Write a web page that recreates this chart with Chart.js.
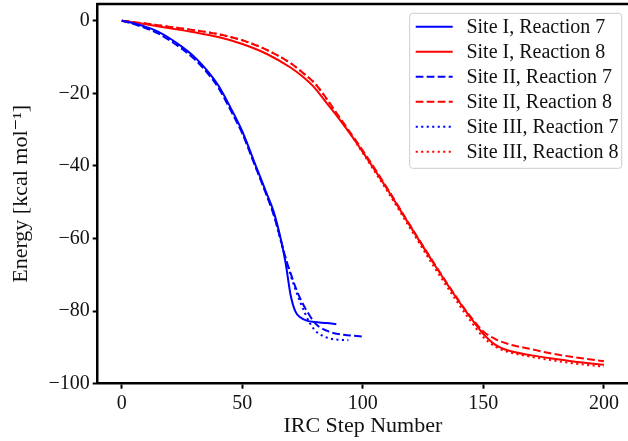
<!DOCTYPE html>
<html>
<head>
<meta charset="utf-8">
<script src="https://cdn.jsdelivr.net/npm/chart.js@4/dist/chart.umd.min.js"></script>
<style>
html, body { margin: 0; padding: 0; background: #fff; }
</style>
</head>
<body>
<canvas id="ircChart" width="628" height="441"></canvas>
<script>
// IRC step numbers and energies (kcal/mol)
var stepsSite1R7 = [0, 5, 10, 15, 20, 25, 30, 35, 40, 45, 50, 55, 60, 63, 66, 68, 70, 72, 74, 77, 80, 85, 89];
var energySite1R7 = [0, -0.7, -1.7, -3.0, -4.9, -7.2, -9.9, -13.4, -17.8, -23.8, -30.5, -39.0, -47.4, -52.6, -60.3, -66.9, -75.5, -80.1, -81.7, -82.7, -83.0, -83.3, -83.6];

var stepsSite2R7 = [0, 5, 10, 15, 20, 25, 30, 35, 40, 45, 50, 55, 60, 63, 66, 68, 70, 72, 74, 76, 78, 80, 82, 85, 88, 92, 96, 100];
var energySite2R7 = [0, -0.9, -2.1, -3.5, -5.5, -7.8, -10.5, -14.0, -18.4, -24.5, -31.1, -39.5, -48.0, -53.5, -60.5, -65.5, -69.5, -73.3, -76.5, -79.1, -81.3, -83.2, -84.4, -85.4, -86.1, -86.5, -86.8, -87.0];

var stepsSite3R7 = [0, 5, 10, 15, 20, 25, 30, 35, 40, 45, 50, 55, 60, 63, 66, 68, 70, 72, 74, 76, 78, 80, 83, 86, 90, 94];
var energySite3R7 = [0, -0.8, -1.9, -3.3, -5.2, -7.5, -10.2, -13.7, -18.1, -24.2, -30.8, -39.3, -47.8, -53.2, -60.8, -65.5, -70.0, -74.0, -77.5, -80.6, -83.3, -85.2, -86.7, -87.5, -87.9, -88.0];

var stepsR8 = [0, 10, 20, 30, 40, 50, 60, 70, 75, 80, 85, 90, 95, 100, 110, 120, 130, 140, 145, 150, 155, 160, 170, 180, 190, 200];
var energySite1R8 = [0, -1.0, -2.1, -3.2, -4.5, -6.4, -9.1, -12.9, -15.4, -18.5, -22.7, -26.9, -31.4, -36.2, -46.3, -57.0, -67.5, -77.5, -82.1, -86.3, -89.3, -90.8, -92.2, -93.2, -94.1, -94.8];
var energySite2R8 = [0, -0.8, -1.7, -2.6, -3.7, -5.4, -8.0, -11.7, -14.3, -17.2, -21.5, -26.3, -31.0, -35.8, -46.0, -56.8, -67.3, -77.3, -81.8, -85.6, -87.7, -89.0, -90.5, -91.9, -92.9, -93.8];
var energySite3R8 = [0, -0.8, -1.7, -2.6, -3.7, -5.4, -8.0, -11.7, -14.3, -17.2, -21.6, -26.6, -31.4, -36.5, -46.8, -57.6, -68.3, -78.3, -83.0, -87.2, -89.8, -91.2, -92.6, -93.7, -94.6, -95.3];

var seriesLabels = ['Site I, Reaction 7', 'Site I, Reaction 8', 'Site II, Reaction 7',
                    'Site II, Reaction 8', 'Site III, Reaction 7', 'Site III, Reaction 8'];
var xTicks = [0, 50, 100, 150, 200];
var yTicks = [-100, -80, -60, -40, -20, 0];

var fontFamily = "'Liberation Serif', 'DejaVu Serif', serif";
var textColor = '#111';
var blue = '#0000ff';
var red = '#ff0000';
var dashed = [7.7, 3.3];
var dotted = [2.1, 3.4];

function toPoints(xs, ys) {
    return xs.map(function(x, i) { return {x: x, y: ys[i]}; });
}

function makeDataset(label, xs, ys, color, dash) {
    return {
        label: label,
        data: toPoints(xs, ys),
        borderColor: color,
        borderWidth: 2,
        borderDash: dash,
        pointRadius: 0,
        fill: false,
        cubicInterpolationMode: 'monotone'
    };
}

function minusSign(value) {
    return String(value).replace('-', '\u2212');
}

// top spine and the framed legend, matplotlib style
var frameAndLegend = {
    id: 'frameAndLegend',
    afterDraw: function(chart) {
        var ctx = chart.ctx;
        var area = chart.chartArea;
        ctx.save();
        ctx.strokeStyle = '#000';
        ctx.lineWidth = 2.5;
        ctx.beginPath();
        ctx.moveTo(area.left - 1.25, area.top);
        ctx.lineTo(area.right, area.top);
        ctx.stroke();

        var w = 212, h = 155, rowH = 25;
        var x0 = area.right - 6.3 - w;
        var y0 = area.top + 9.3;
        ctx.beginPath();
        ctx.roundRect(x0, y0, w, h, 3);
        ctx.fillStyle = 'rgba(255,255,255,0.8)';
        ctx.fill();
        ctx.strokeStyle = '#cccccc';
        ctx.lineWidth = 1;
        ctx.stroke();

        ctx.font = '20px ' + fontFamily;
        ctx.textBaseline = 'middle';
        ctx.textAlign = 'left';
        chart.data.datasets.forEach(function(ds, i) {
            var cy = y0 + 13.4 + i * rowH;
            ctx.beginPath();
            ctx.setLineDash(ds.borderDash || []);
            ctx.strokeStyle = ds.borderColor;
            ctx.lineWidth = 2;
            ctx.moveTo(x0 + 6, cy);
            ctx.lineTo(x0 + 43, cy);
            ctx.stroke();
            ctx.setLineDash([]);
            ctx.fillStyle = textColor;
            ctx.fillText(ds.label, x0 + 56.7, cy + 1);
        });
        ctx.restore();
    }
};

new Chart(document.getElementById('ircChart'), {
    type: 'line',
    data: {
        datasets: [
            makeDataset(seriesLabels[0], stepsSite1R7, energySite1R7, blue, []),
            makeDataset(seriesLabels[1], stepsR8, energySite1R8, red, []),
            makeDataset(seriesLabels[2], stepsSite2R7, energySite2R7, blue, dashed),
            makeDataset(seriesLabels[3], stepsR8, energySite2R8, red, dashed),
            makeDataset(seriesLabels[4], stepsSite3R7, energySite3R7, blue, dotted),
            makeDataset(seriesLabels[5], stepsR8, energySite3R8, red, dotted)
        ]
    },
    options: {
        responsive: false,
        animation: false,
        devicePixelRatio: 1,
        layout: { autoPadding: false, padding: { top: 4, right: 0, left: 0, bottom: 0 } },
        plugins: {
            legend: { display: false },
            tooltip: { enabled: false }
        },
        scales: {
            x: {
                type: 'linear',
                min: -10,
                max: 210,
                afterBuildTicks: function(scale) {
                    scale.ticks = xTicks.map(function(v) { return {value: v}; });
                },
                afterFit: function(scale) {
                    scale.height = 57.3;
                    scale.paddingLeft = 0;
                    scale.paddingRight = 0;
                },
                grid: { drawOnChartArea: false, drawTicks: true, tickLength: 5, tickWidth: 2, tickColor: '#000' },
                border: { display: true, color: '#000', width: 2.5 },
                ticks: {
                    color: textColor,
                    padding: 3,
                    maxRotation: 0,
                    font: { family: fontFamily, size: 20 },
                    callback: function(v) { return minusSign(v); }
                },
                title: {
                    display: true,
                    text: 'IRC Step Number',
                    color: textColor,
                    padding: { top: 0, bottom: 2 },
                    font: { family: fontFamily, size: 22 }
                }
            },
            y: {
                min: -100,
                max: 4.6,
                afterBuildTicks: function(scale) {
                    scale.ticks = yTicks.map(function(v) { return {value: v}; });
                },
                afterFit: function(scale) {
                    scale.width = 97.7;
                    scale.paddingTop = 0;
                    scale.paddingBottom = 0;
                },
                grid: { drawOnChartArea: false, drawTicks: true, tickLength: 5, tickWidth: 2, tickColor: '#000' },
                border: { display: true, color: '#000', width: 2.5 },
                ticks: {
                    color: textColor,
                    padding: 3,
                    font: { family: fontFamily, size: 20 },
                    callback: function(v) { return minusSign(v); }
                },
                title: {
                    display: true,
                    text: 'Energy [kcal mol\u207B\u00B9]',
                    color: textColor,
                    padding: { top: 8, bottom: 0 },
                    font: { family: fontFamily, size: 22 }
                }
            }
        }
    },
    plugins: [frameAndLegend]
});
</script>
</body>
</html>
